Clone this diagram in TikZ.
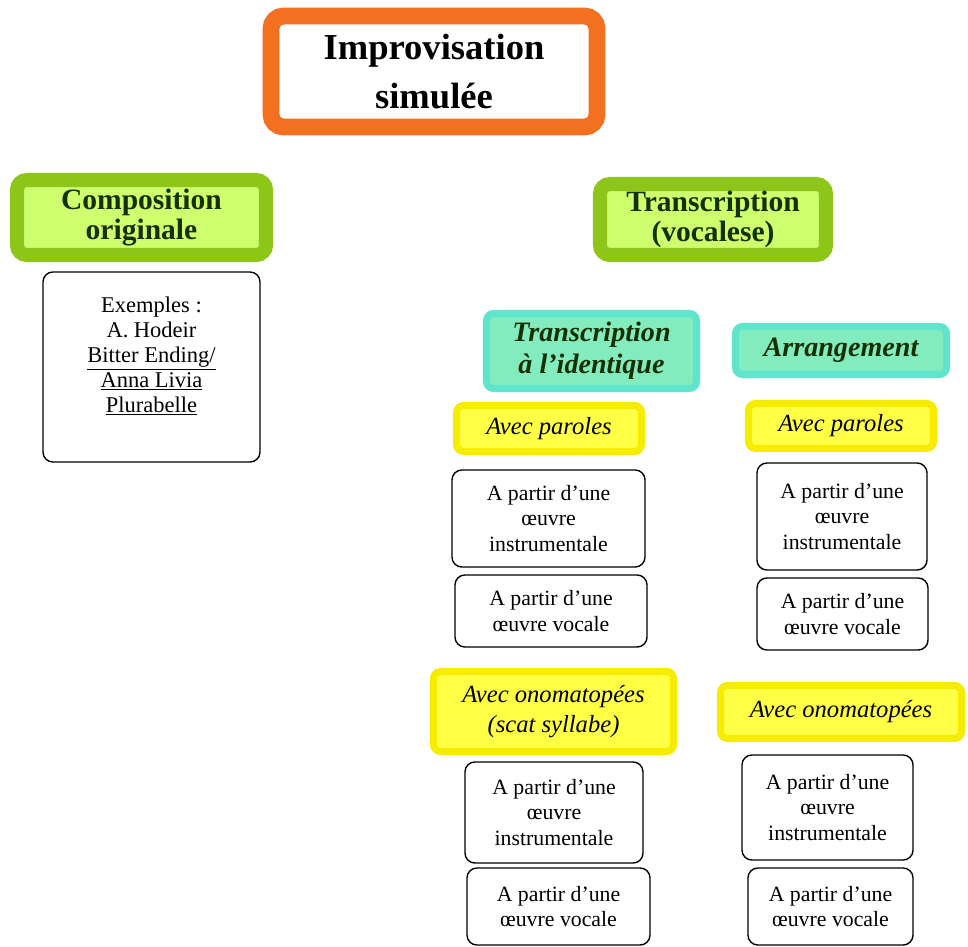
\documentclass[tikz,border=0pt]{standalone}
\usepackage{fontspec}
\setmainfont{Liberation Serif}
\newdimen\pxl
\pxl=0.025cm
\definecolor{orangeB}{RGB}{243,112,32}
\definecolor{greenB}{RGB}{141,198,24}
\definecolor{greenF}{RGB}{206,255,110}
\definecolor{greenT}{RGB}{22,48,4}
\definecolor{cyanB}{RGB}{96,228,204}
\definecolor{cyanF}{RGB}{130,236,190}
\definecolor{yellowB}{RGB}{246,236,0}
\definecolor{yellowF}{RGB}{255,255,70}

\begin{document}
\begin{tikzpicture}[x=0.025cm,y=-0.025cm,
  sz/.style 2 args={minimum width=#1*\pxl,minimum height=#2*\pxl,inner sep=0pt},
  titlebox/.style={draw=orangeB,line width=12pt,rounded corners=9pt,fill=white,align=center,
    font=\fontsize{26}{35}\selectfont\bfseries},
  greenbox/.style={draw=greenB,line width=10pt,rounded corners=7pt,fill=greenF,align=center,
    text=greenT,font=\fontsize{21}{21.5}\selectfont\bfseries},
  cyanbox/.style={draw=cyanB,line width=5pt,rounded corners=5pt,fill=cyanF,align=center,
    text=greenT,font=\fontsize{20}{23}\selectfont\bfseries\itshape},
  yellowbox/.style={draw=yellowB,line width=5pt,rounded corners=5pt,fill=yellowF,align=center,
    font=\fontsize{17.5}{21.5}\selectfont\itshape},
  plain/.style={draw=black,line width=1pt,rounded corners=7pt,fill=white,align=center,
    font=\fontsize{15.5}{18.2}\selectfont}]
\useasboundingbox (0,0) rectangle (968,947);

\node[titlebox,sz={326}{111}] (top) at (434,71.5)
{Improvisation\\simulée};

\node[greenbox,sz={249}{75}] (comp) at (141.5,217.5)
{Composition\\originale};
\node[greenbox,sz={226}{71}] (trans) at (713,219.5)
{Transcription\\(vocalese)};

\node[plain,sz={217}{190}] (ex) at (151.5,367) {};
\node[align=center,font=\fontsize{16}{17.8}\selectfont] (exTxt) at (151.5,356)
{Exemples :\\A. Hodeir\\\underline{Bitter Ending/}\\\underline{Anna Livia}\\\underline{Plurabelle}};

\node[cyanbox,sz={210}{75}] (ident) at (591.5,351)
{Transcription\\à l’identique};
\node[cyanbox,sz={211}{48}] (arr) at (841,350.5)
{Arrangement};

\node[yellowbox,sz={185}{46}] (parL) at (549,428.5)
{Avec paroles};
\node[yellowbox,sz={185}{45}] (parR) at (841,426)
{Avec paroles};

\node[plain,sz={193}{97}] (instL) at (548.5,518.5)
{A partir d’une\\œuvre\\instrumentale};
\node[plain,sz={192}{72}] (vocL) at (551,611)
{A partir d’une\\œuvre vocale};
\node[plain,sz={170}{107}] (instR) at (842,516.5)
{A partir d’une\\œuvre\\instrumentale};
\node[plain,sz={171}{72}] (vocR) at (842.5,614)
{A partir d’une\\œuvre vocale};

\node[yellowbox,sz={240}{80}] (onoL) at (553.5,711.5)
{Avec onomatopées\\(scat syllabe)};
\node[yellowbox,sz={241}{53}] (onoR) at (841,712)
{Avec onomatopées};

\node[plain,sz={178}{101}] (instL2) at (554,812.5)
{A partir d’une\\œuvre\\instrumentale};
\node[plain,sz={183}{77}] (vocL2) at (558.5,906.5)
{A partir d’une\\œuvre vocale};
\node[plain,sz={171}{105}] (instR2) at (827.5,807.5)
{A partir d’une\\œuvre\\instrumentale};
\node[plain,sz={165}{77}] (vocR2) at (830.5,906.5)
{A partir d’une\\œuvre vocale};
\end{tikzpicture}
\end{document}
